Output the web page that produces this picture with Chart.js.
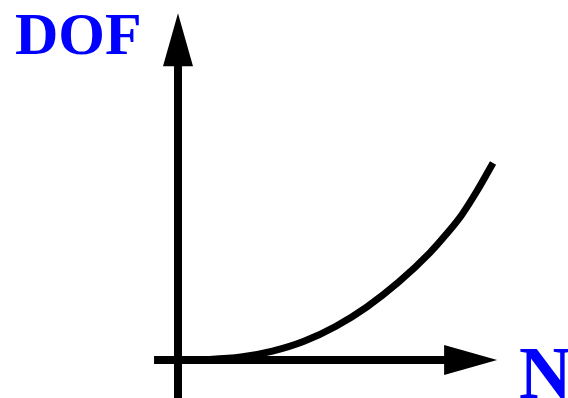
<!DOCTYPE html>
<html lang="en">
<head>
  <title>DOF vs N</title>
  <script src="https://cdn.jsdelivr.net/npm/chart.js"></script>
  <style>
    html, body { margin: 0; padding: 0; background: #fff; }
  </style>
</head>
<body>
<canvas id="chart" width="568" height="398"></canvas>

<script>
  // curve (arbitrary units, origin where the axes cross)
  const nValues = [0, 1, 2, 3, 4, 5, 6, 7, 8, 8.5, 9, 9.5, 10];
  const dofValues = [0, 0.03, 0.15, 0.45, 0.95, 1.7, 2.7, 3.95, 5.45, 6.35, 7.35, 8.6, 10];

  // axis extents in the same units
  const xAxisStart = -0.76;
  const xAxisTip = 10.13;
  const yAxisStart = -1.93;
  const yAxisTip = 17.6;

  const xLabel = 'N';
  const yLabel = 'DOF';

  const labelFont = '"Times New Roman", "Liberation Serif", Times, serif';

  // draws both axes with arrowheads and the two labels
  const axesPlugin = {
    id: 'arrowAxes',
    beforeDatasetsDraw(chart) {
      const ctx = chart.ctx;
      const xs = chart.scales.x;
      const ys = chart.scales.y;
      const x0 = xs.getPixelForValue(0);
      const y0 = ys.getPixelForValue(0);
      const head = 53, half = 15;

      ctx.save();
      ctx.fillStyle = '#000';
      ctx.strokeStyle = '#000';
      ctx.lineWidth = 8;

      // vertical axis
      const yTip = ys.getPixelForValue(yAxisTip);
      ctx.beginPath();
      ctx.moveTo(x0, ys.getPixelForValue(yAxisStart));
      ctx.lineTo(x0, yTip + head - 1);
      ctx.stroke();
      ctx.beginPath();
      ctx.moveTo(x0, yTip);
      ctx.lineTo(x0 - half, yTip + head);
      ctx.lineTo(x0 + half, yTip + head);
      ctx.closePath();
      ctx.fill();

      // horizontal axis
      const xTip = xs.getPixelForValue(xAxisTip);
      ctx.beginPath();
      ctx.moveTo(xs.getPixelForValue(xAxisStart), y0);
      ctx.lineTo(xTip - head + 1, y0);
      ctx.stroke();
      ctx.beginPath();
      ctx.moveTo(xTip, y0);
      ctx.lineTo(xTip - head, y0 - half);
      ctx.lineTo(xTip - head, y0 + half);
      ctx.closePath();
      ctx.fill();

      // labels
      ctx.fillStyle = '#0000ff';
      ctx.textBaseline = 'alphabetic';
      ctx.textAlign = 'left';
      ctx.font = 'bold 60px ' + labelFont;
      ctx.fillText(yLabel, x0 - 163, yTip + 41);
      ctx.font = 'bold 73px ' + labelFont;
      ctx.fillText(xLabel, xTip + 22, y0 + 38);
      ctx.restore();
    }
  };

  new Chart(document.getElementById('chart'), {
    type: 'line',
    data: {
      labels: nValues,
      datasets: [{
        data: nValues.map((n, i) => ({ x: n, y: dofValues[i] })),
        borderColor: '#000',
        borderWidth: 7,
        pointRadius: 0,
        fill: false,
        cubicInterpolationMode: 'monotone',
        borderCapStyle: 'butt'
      }]
    },
    options: {
      responsive: false,
      animation: false,
      layout: { padding: 0 },
      plugins: {
        legend: { display: false },
        tooltip: { enabled: false }
      },
      scales: {
        x: { type: 'linear', min: -5.65, max: 12.38, display: false },
        y: { type: 'linear', min: -1.93, max: 18.27, display: false }
      }
    },
    plugins: [axesPlugin]
  });
</script>
</body>
</html>
